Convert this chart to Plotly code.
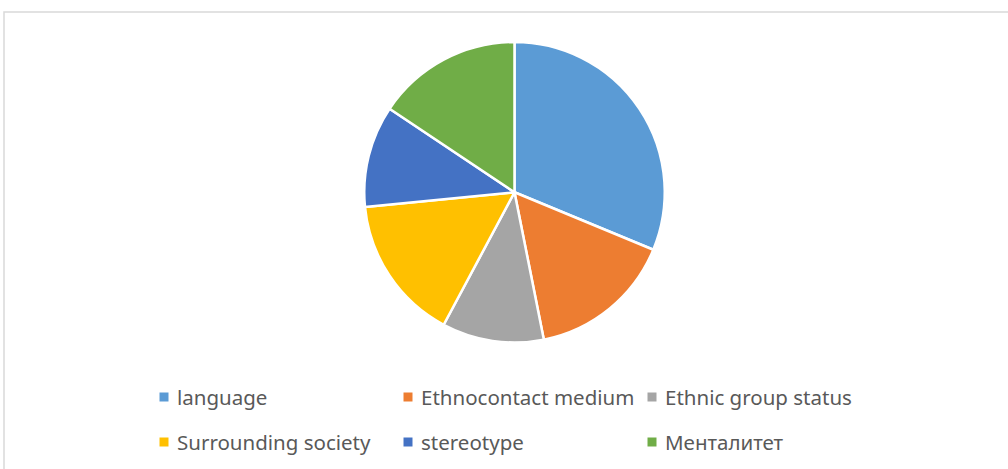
import plotly.graph_objects as go

# Factors and their shares
categories = ["language", "Ethnocontact medium", "Ethnic group status",
              "Surrounding society", "stereotype", "Менталитет"]
values = [20, 10, 7, 10, 7, 10]
colors = ["#5B9BD5", "#ED7D31", "#A5A5A5", "#FFC000", "#4472C4", "#70AD47"]

W, H = 1008, 469

fig = go.Figure()
fig.add_trace(go.Pie(
    labels=categories,
    values=values,
    sort=False,
    direction="clockwise",
    rotation=0,
    marker=dict(colors=colors, line=dict(color="white", width=2.5)),
    textinfo="none",
    showlegend=False,
    domain=dict(x=[364 / W, 665 / W], y=[1 - 342.5 / H, 1 - 42 / H]),
))

# Legend laid out as a 3-column grid below the pie
col_w, row_h = 244, 45
x0_sym, y0_sym = 164, 397
sq = 9
shapes = []
annotations = []
for i, (name, c) in enumerate(zip(categories, colors)):
    col, row = i % 3, i // 3
    cx = x0_sym + col * col_w
    cy = y0_sym + row * row_h
    shapes.append(dict(type="rect", xref="paper", yref="paper",
                       x0=(cx - sq / 2) / W, x1=(cx + sq / 2) / W,
                       y0=1 - (cy + sq / 2) / H, y1=1 - (cy - sq / 2) / H,
                       fillcolor=c, line=dict(width=0)))
    annotations.append(dict(xref="paper", yref="paper",
                            x=(cx + 11) / W, y=1 - cy / H,
                            xanchor="left", yanchor="middle",
                            text=name, showarrow=False,
                            font=dict(family="Noto Sans", size=20.5, color="#595959")))

# Chart area frame
shapes.append(dict(type="rect", xref="paper", yref="paper",
                   x0=4 / W, x1=1.02, y0=-0.02, y1=1 - 12 / H,
                   line=dict(color="#D9D9D9", width=1.5), fillcolor="rgba(0,0,0,0)"))

fig.update_layout(
    width=W, height=H,
    margin=dict(l=0, r=0, t=0, b=0),
    paper_bgcolor="white",
    plot_bgcolor="white",
    shapes=shapes,
    annotations=annotations,
)

fig.write_html("out.html")
